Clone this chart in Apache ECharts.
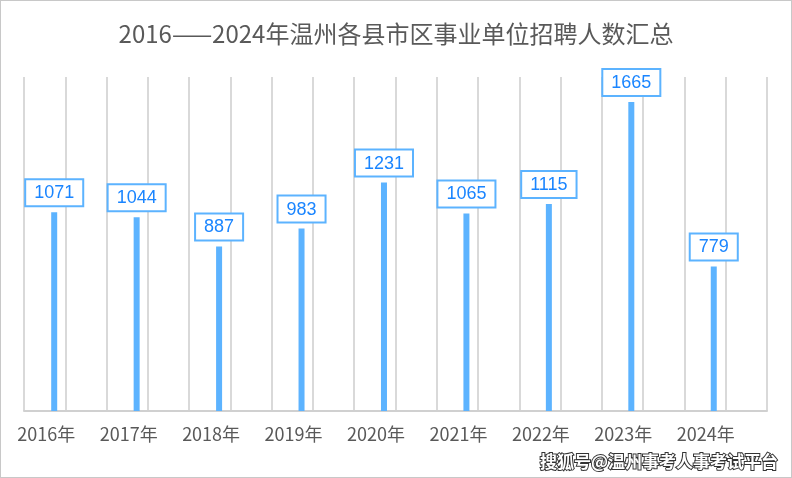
<!DOCTYPE html>
<html lang="zh">
<head>
    <meta charset="UTF-8">
    <script src="https://cdn.jsdelivr.net/npm/echarts@6/dist/echarts.min.js"></script>
    <style>
        body{margin:0;background:#fff;}
        #main{width:790px;height:476px;border:1px solid #c8c8c8;}
    </style>
</head>
<body>
<div id="main"></div>
<script>
    var years = ['2016年','2017年','2018年','2019年','2020年','2021年','2022年','2023年','2024年'];
    var counts = [1071, 1044, 887, 983, 1231, 1065, 1115, 1665, 779];
    var placeholder = [0, 0, 0, 0, 0, 0, 0, 0, 0];

    var myChart = echarts.init(document.getElementById('main'));
    var option = {
        animation: false,
        title: {
            text: '2016——2024年温州各县市区事业单位招聘人数汇总',
            left: 'center', top: 16,
            textStyle: {fontSize: 24, fontWeight: 'normal', color: '#595959',
                fontFamily: 'Noto Sans CJK SC'}
        },
        graphic: [{
            type: 'text', right: 12, bottom: 6,
            style: {text: '搜狐号@温州事考人事考试平台', fill: '#fff', fontSize: 17, fontWeight: 'bold',
                fontFamily: 'Noto Sans CJK SC', stroke: '#333', lineWidth: 2}
        }],
        grid: [
            {left: 4, right: 44, top: 76, bottom: 66},
            {left: 23, right: 24, top: 76, bottom: 66}
        ],
        xAxis: [
            {type: 'category', data: years, gridIndex: 0,
                axisTick: {show: false},
                axisLine: {show: false},
                axisLabel: {fontSize: 18, color: '#595959', margin: 14, fontFamily: 'Noto Sans CJK SC'}},
            {type: 'value', gridIndex: 1, min: 0, max: 18, interval: 1,
                axisLabel: {show: false}, axisTick: {show: false},
                axisLine: {show: true, lineStyle: {color: '#d0d0d0', width: 2}},
                splitLine: {show: true, lineStyle: {color: '#d9d9d9', width: 2}}}
        ],
        yAxis: [
            {type: 'value', gridIndex: 0, min: 0, max: 1800, show: false},
            {type: 'value', gridIndex: 1, min: 0, max: 1, show: false}
        ],
        series: [
            {type: 'bar', data: placeholder, barWidth: 6, barGap: '166%', silent: true,
                itemStyle: {color: 'transparent'}},
            {type: 'bar', data: counts, barWidth: 6, barGap: '166%',
                itemStyle: {color: '#5cb3ff'},
                label: {show: true, position: 'top', distance: 7,
                    fontSize: 18, color: '#1a85ff', fontFamily: 'Liberation Sans',
                    backgroundColor: '#fff', borderColor: '#5cb3ff', borderWidth: 2,
                    padding: [4, 8, 3, 8]}}
        ]
    };
    myChart.setOption(option);
</script>
</body>
</html>
